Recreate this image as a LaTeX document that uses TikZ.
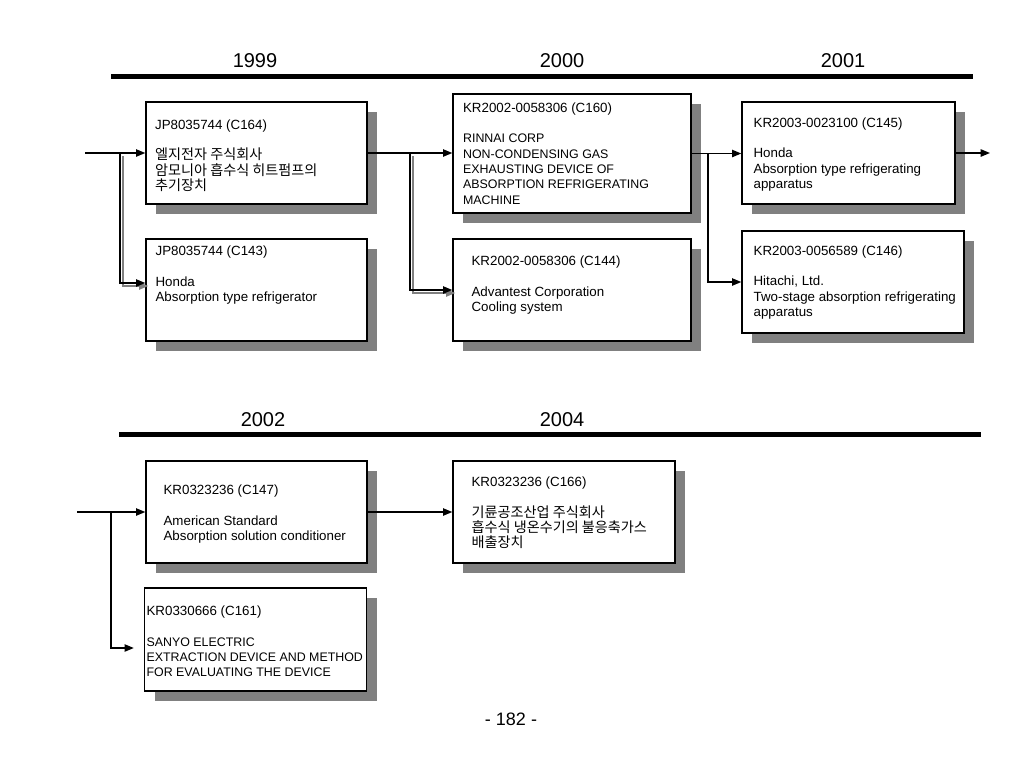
\documentclass[tikz,border=0pt]{standalone}
\usepackage{fontspec}
\setmainfont{Liberation Sans}
\newfontfamily\kr[Scale=1.06]{Noto Sans CJK KR}
\newcommand\capsfont{\fontsize{9.3pt}{11.5pt}\selectfont}
\usetikzlibrary{arrows.meta,shadows}
\def\pxu{0.75pt}
\tikzset{
	patent/.style={
		draw,
		line width=1pt,
		fill=white,
		inner sep=0pt,
		drop shadow={shadow xshift=7.5pt, shadow yshift=-7.5pt, fill=gray, opacity=1}
	},
	info/.style={
		align=left,
		inner sep=0pt,
		anchor=west,
		font=\fontsize{10pt}{11.5pt}\selectfont
	},
	year/.style={font=\fontsize{15pt}{18pt}\selectfont},
	yearline/.style={line width=3.75pt},
	flow/.style={line width=1.1pt, -{Triangle[length=7pt,width=5.5pt]}},
	ghost/.style={flow, gray, transform canvas={shift={(3,3)}}}
}

\begin{document}
\begin{tikzpicture}[x=0.75pt, y=-0.75pt]
	\fill[white] (0,0) rectangle (1024,768);
	\path[use as bounding box] (0,0) rectangle (1024,768);

	\node[year] (y1999) at (255,61) {1999};
	\node[year] (y2000) at (562,61) {2000};
	\node[year] (y2001) at (843,61) {2001};
	\draw[yearline] (111,76) -- (973,76);

	\node[year] (y2002) at (263,420) {2002};
	\node[year] (y2004) at (562,420) {2004};
	\draw[yearline] (119,434.5) -- (981,434.5);

	\node[patent, minimum width=221*\pxu, minimum height=102*\pxu] (c164) at (256.5,153) {};
	\node[patent, minimum width=221*\pxu, minimum height=102*\pxu] (c143) at (256.5,290) {};
	\node[patent, minimum width=238*\pxu, minimum height=119*\pxu] (c160) at (572,153.5) {};
	\node[patent, minimum width=238*\pxu, minimum height=102*\pxu] (c144) at (572,290) {};
	\node[patent, minimum width=213*\pxu, minimum height=102*\pxu] (c145) at (848.5,153) {};
	\node[patent, minimum width=222*\pxu, minimum height=102*\pxu] (c146) at (853,282) {};
	\node[patent, minimum width=221*\pxu, minimum height=102*\pxu] (c147) at (256.5,512) {};
	\node[patent, minimum width=222*\pxu, minimum height=102*\pxu] (c166) at (564,512) {};
	\node[patent, minimum width=222*\pxu, minimum height=103*\pxu] (c161) at (255.5,639.5) {};

	\node[info] (t164) at ([shift={(9.5,2.5)}]c164.west) {JP8035744 (C164)\\[11.5pt]
		{\kr 엘지전자 주식회사}\\ {\kr 암모니아 흡수식 히트펌프의}\\ {\kr 추기장치}};
	\node[info] (t143) at ([shift={(10,-14.5)}]c143.west) {JP8035744 (C143)\\[11.5pt]
		Honda\\ Absorption type refrigerator};
	\node[info] (t160) at ([shift={(10.5,0)}]c160.west) {KR2002-0058306 (C160)\\[11.5pt]
		{\capsfont RINNAI CORP}\\ {\capsfont NON-CONDENSING GAS}\\ {\capsfont EXHAUSTING DEVICE OF}\\
		{\capsfont ABSORPTION REFRIGERATING}\\ {\capsfont MACHINE}};
	\node[info] (t144) at ([shift={(19,-4.5)}]c144.west) {KR2002-0058306 (C144)\\[11.5pt]
		Advantest Corporation\\ Cooling system};
	\node[info] (t145) at ([shift={(12,1.5)}]c145.west) {KR2003-0023100 (C145)\\[11.5pt]
		Honda\\ Absorption type refrigerating\\ apparatus};
	\node[info] (t146) at ([shift={(12,0.5)}]c146.west) {KR2003-0056589 (C146)\\[11.5pt]
		Hitachi, Ltd.\\ Two-stage absorption refrigerating\\ apparatus};
	\node[info] (t147) at ([shift={(18,2)}]c147.west) {KR0323236 (C147)\\[11.5pt]
		American Standard\\ Absorption solution conditioner};
	\node[info] (t166) at ([shift={(19,1)}]c166.west) {KR0323236 (C166)\\[11.5pt]
		{\kr 기륜공조산업 주식회사}\\ {\kr 흡수식 냉온수기의 불응축가스}\\ {\kr 배출장치}};
	\node[info] (t161) at ([shift={(2.5,2)}]c161.west) {KR0330666 (C161)\\[11.5pt]
		{\capsfont SANYO ELECTRIC}\\ {\capsfont EXTRACTION DEVICE AND METHOD}\\ {\capsfont FOR EVALUATING THE DEVICE}};

	\coordinate (in1) at (85,153);
	\coordinate (j1) at (120,153);
	\coordinate (j2) at (410,153);
	\coordinate (j3) at (708,153.5);
	\coordinate (out1) at (990,153);
	\coordinate (in2) at (77,512);
	\coordinate (j4) at (111,512);

	\draw[flow] (in1) -- (c164.west);
	\draw[ghost] (j1) |- ([shift={(0,-7)}]c143.west);
	\draw[flow] (j1) |- ([shift={(0,-7)}]c143.west);
	\draw[flow] (c164.east) -- (c164.east -| c160.west);
	\draw[ghost] (j2) |- (c144.west);
	\draw[flow] (j2) |- (c144.west);
	\draw[flow] (c160.east) -- (c160.east -| c145.west);
	\draw[flow] (j3) |- (c146.west);
	\draw[flow] (c145.east) -- (out1);

	\draw[flow] (in2) -- (c147.west);
	\draw[flow, shorten >=7.5pt] (j4) |- ([shift={(0,8.5)}]c161.west);
	\draw[flow] (c147.east) -- (c166.west);

	\node[font=\fontsize{13.5pt}{16pt}\selectfont] (page) at (511,719.5) {- 182 -};
\end{tikzpicture}
\end{document}
